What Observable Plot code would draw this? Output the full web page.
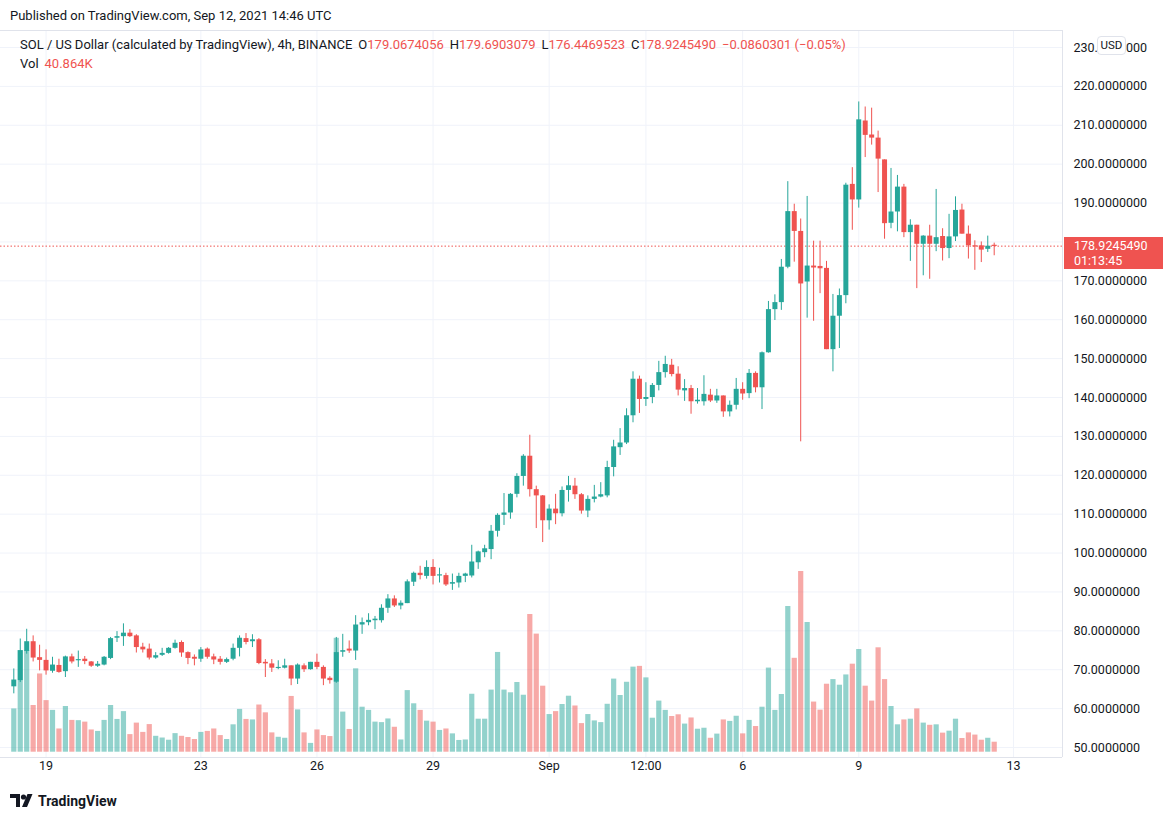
<!DOCTYPE html>
<html><head><meta charset="utf-8">
<script src="https://cdn.jsdelivr.net/npm/d3@7"></script>
<script src="https://cdn.jsdelivr.net/npm/@observablehq/plot@0.6"></script>
<style>
body{margin:0;background:#fff;font-family:Roboto,"Liberation Sans",Arial,sans-serif;color:#131722;}
#page{position:relative;width:1169px;height:820px;overflow:hidden;background:#fff;}
#header{position:absolute;left:10px;top:8px;font-size:13px;line-height:16px;white-space:nowrap;}
#chart{position:absolute;left:0;top:30px;width:1169px;height:760px;}
#chart svg{position:absolute;left:0;top:0;}
.legend{position:absolute;left:20px;font-size:13px;line-height:16px;white-space:nowrap;}
.legend .v{color:#ef5350;}
.legend .g{margin-left:6px;}
#pricebox{position:absolute;left:1064px;width:99px;height:32px;background:#ef5350;color:#fff;font-size:12.5px;line-height:15px;padding:1px 0 0 10px;box-sizing:border-box;}
#usd{position:absolute;left:1097px;top:6px;width:29px;height:19px;background:#fff;border:1px solid #e0e3eb;border-radius:4px;box-sizing:border-box;font-size:11.5px;line-height:17px;text-align:center;}
#footer{position:absolute;left:10px;top:793px;font-size:14px;font-weight:bold;line-height:16px;display:flex;align-items:center;gap:4px;}
</style></head>
<body><div id="page">
<div id="header">Published on TradingView.com, Sep 12, 2021 14:46 UTC</div>
<div id="chart"></div>
<div class="legend" style="top:37px">SOL / US Dollar (calculated by TradingView), 4h, BINANCE<span class="g">O<span class="v">179.0674056</span></span><span class="g">H<span class="v">179.6903079</span></span><span class="g">L<span class="v">176.4469523</span></span><span class="g">C<span class="v">178.9245490</span></span><span class="g v">−0.0860301 (−0.05%)</span></div>
<div class="legend" style="top:56px">Vol<span class="g v">40.864K</span></div>
<div id="footer"><svg width="24" height="14" viewBox="0 0 24 14"><path d="M0 0h10v13H6V4H0z" fill="#131722"/><circle cx="13.5" cy="3" r="2.6" fill="#131722"/><path d="M17.5 0h5L17 13h-5z" fill="#131722"/></svg><span>TradingView</span></div>
</div>
<script>
// ---- data (4h candles, SOL/USD, Binance) ----
const startTime = "2021-08-18T04:00:00Z";
const openVals = [65.6,67.2,74.7,77.2,73.1,72.4,69.6,71.1,69.5,73.3,
72.3,72.7,72.0,70.9,71.2,72.9,78.1,78.5,79.4,78.7,
75.8,75.3,73.0,73.7,74.2,75.5,77.0,74.4,73.2,72.7,
75.3,73.3,72.7,71.9,72.7,75.5,78.0,77.2,77.7,71.9,
71.5,70.3,70.4,71.0,67.6,71.0,70.0,71.9,70.6,67.8,
66.8,74.5,75.3,74.8,81.5,82.1,82.6,82.6,85.8,88.2,
86.4,87.0,92.5,94.8,94.0,96.3,94.1,94.2,92.0,92.3,
94.0,94.1,97.5,100.1,100.9,105.6,109.7,110.3,115.1,119.7,
124.9,116.3,114.7,108.3,111.3,110.1,116.1,117.2,115.0,110.8,
113.8,114.4,114.7,122.0,127.1,128.3,135.3,144.7,139.5,140.0,
143.1,146.4,148.3,146.0,141.7,142.3,138.9,138.9,140.6,139.1,
140.4,136.3,138.0,142.1,141.0,146.2,142.5,151.5,162.6,164.4,
173.5,187.8,182.7,169.7,173.8,173.7,173.2,152.3,160.9,166.2,
194.8,190.8,211.1,207.5,206.7,201.1,184.8,187.7,194.1,182.4,
184.3,179.4,181.5,179.4,181.4,178.3,181.3,188.2,182.0,179.0,
179.0,178.1,179.0674056];
const highVals = [70.2,77.9,80.4,78.7,76.3,75.1,73.2,72.7,73.5,74.0,
74.8,73.4,72.1,72.1,73.4,78.3,79.8,81.8,80.3,79.0,
76.8,76.6,74.4,75.5,75.7,77.6,77.4,74.6,73.8,75.7,
75.6,74.0,73.4,73.0,76.6,78.7,79.3,79.0,78.0,72.6,
72.6,72.3,72.7,71.0,71.5,71.5,71.9,74.0,71.0,68.2,
78.3,79.1,77.4,83.9,83.3,84.4,83.7,86.7,89.3,89.0,
87.7,93.1,95.1,96.6,98.0,98.3,96.1,94.8,94.6,94.8,
94.8,102.0,100.5,102.0,107.1,110.1,115.3,115.3,120.4,125.3,
130.3,117.2,114.8,112.4,115.1,117.0,119.7,119.2,115.3,114.7,
117.4,118.1,123.6,129.0,132.0,137.1,146.6,145.5,143.8,143.6,
149.3,150.6,149.8,147.9,144.6,143.1,142.3,145.6,142.1,142.1,
140.4,139.1,144.9,143.8,147.2,146.6,151.7,164.7,166.4,175.5,
195.5,189.7,185.9,191.7,180.2,180.2,175.0,166.5,167.9,195.1,
199.1,216.0,214.7,214.4,208.5,201.1,198.9,197.1,194.8,185.7,
184.3,181.6,184.3,193.5,183.4,187.1,191.6,189.7,184.1,180.3,
180.0,181.5,179.6903079];
const lowVals = [63.8,66.7,74.0,72.0,69.7,68.6,69.1,69.1,68.0,71.5,
70.6,71.3,70.6,70.6,71.0,72.6,77.0,76.0,78.3,74.3,
74.3,72.5,72.7,73.4,74.0,75.3,73.2,71.3,71.0,71.9,
72.7,71.3,71.2,71.6,72.3,73.3,76.4,75.7,71.3,68.0,
69.3,70.0,70.2,65.9,66.2,69.3,69.9,70.0,65.9,66.3,
66.5,73.2,74.2,72.4,79.1,81.3,80.3,82.0,84.5,86.0,
85.4,87.0,91.4,93.1,93.3,91.8,92.3,91.4,90.4,91.0,
92.4,93.6,95.8,98.8,98.3,104.1,107.1,108.7,114.2,117.2,
114.4,106.3,102.7,105.9,107.3,109.3,113.1,113.8,110.0,109.1,
112.9,114.2,114.2,119.6,125.1,127.9,133.5,135.9,137.7,138.4,
141.7,145.0,145.3,140.4,139.0,135.7,138.3,137.8,138.7,138.5,
134.9,135.0,136.8,139.3,139.7,141.2,136.9,151.4,159.8,162.4,
173.1,174.8,128.6,160.4,159.6,166.7,152.3,146.6,152.6,164.1,
183.0,188.7,201.7,204.9,192.7,180.7,183.4,182.6,181.1,175.0,
168.0,171.3,170.4,177.5,175.1,175.7,180.1,182.0,175.6,172.7,
174.7,177.3,176.4469523];
const closeVals = [67.35,74.9,77.2,73.0,72.4,69.7,71.2,69.3,73.3,72.0,
72.6,72.1,70.9,71.4,73.2,78.0,78.5,79.4,78.5,75.7,
75.1,73.0,73.6,74.2,75.5,76.8,74.3,72.9,72.7,75.1,
73.2,72.5,71.9,72.6,75.5,78.1,77.0,77.7,71.6,71.5,
70.4,70.6,71.0,67.6,71.2,70.0,71.9,70.6,67.6,67.2,
74.4,74.9,74.8,81.5,82.1,82.7,83.0,85.8,88.2,86.4,
87.1,92.6,94.8,94.2,96.3,94.0,94.4,91.8,92.4,94.0,
94.6,97.7,100.3,101.1,105.6,109.7,110.3,115.1,119.7,124.9,
116.3,114.7,108.3,111.3,110.1,116.1,117.3,115.0,110.8,113.8,
114.4,115.0,122.0,127.3,128.3,135.3,144.7,139.5,140.0,143.1,
146.4,148.5,145.9,141.9,142.3,138.9,139.3,140.8,139.1,140.4,
136.3,138.0,142.1,140.9,146.2,142.5,151.5,162.6,164.4,173.5,
187.8,182.7,169.2,173.8,173.3,173.1,152.3,160.9,166.2,194.6,
190.8,211.4,207.4,206.7,201.3,184.7,187.7,194.1,182.4,184.3,
179.4,181.5,179.4,181.1,178.3,181.3,188.1,182.0,179.0,178.7,
177.9,178.9,178.9245490];
const volumeK = [177,416,416,191,320,211,171,95,187,130,
129,123,91,85,130,191,134,166,72,119,
81,113,65,58,49,76,65,60,52,81,
85,95,68,52,112,175,134,132,193,161,
79,61,57,228,173,79,36,91,68,64,
466,164,93,341,184,171,123,121,136,102,
50,252,198,171,127,123,89,95,75,48,
50,237,135,135,254,408,254,243,285,233,
563,483,270,154,166,195,229,189,117,154,
128,121,196,299,232,286,348,351,304,139,
209,171,146,153,115,140,94,98,57,74,
132,126,147,75,130,105,184,344,171,236,
596,384,739,530,205,172,278,297,274,316,
360,420,270,209,427,297,187,112,132,135,
177,119,110,112,78,86,135,56,79,70,
49,57,40.864];
const priceTicks = [50,60,70,80,90,100,110,120,130,140,150,160,170,180,190,200,210,220,230];
const priceTickLabelled = [50,60,70,80,90,100,110,120,130,140,150,160,170,190,200,210,220,230];
const tickDates = ["2021-08-19T00:00Z","2021-08-23T00:00Z","2021-08-26T00:00Z","2021-08-29T00:00Z","2021-09-01T00:00Z","2021-09-03T12:00Z","2021-09-06T00:00Z","2021-09-09T00:00Z","2021-09-13T00:00Z"];
const tickLabels = ["19","23","26","29","Sep","12:00","6","9","13"];
const lastClose = 178.9245490;

// ---- layout ----
const GREEN = "#26a69a", RED = "#ef5350";
const H4 = 4*3600*1000;
const t0 = Date.parse(startTime);
const W = 1169, H = 760, MR = 107, MB = 33;
const pxPerBar = 6.45, firstX = 13.3, plotW = W - MR;
const xDomain = [new Date(t0 + (-firstX/pxPerBar)*H4), new Date(t0 + ((plotW-firstX)/pxPerBar)*H4)];
const pxPerUnit = 700/180;
const yDomain = [50 - 10/pxPerUnit, 230 + 17/pxPerUnit];
const volBase = 721.7, kPerPx = 4.09;

const rows = openVals.map((o, i) => {
  const c = closeVals[i];
  let lo = Math.min(o, c), hi = Math.max(o, c);
  if (hi - lo < 0.3) { const m = (hi + lo)/2; lo = m - 0.15; hi = m + 0.15; }
  return {t: new Date(t0 + i*H4), o, h: highVals[i], l: lowVals[i], c, v: volumeK[i], bl: lo, bh: hi, up: c >= o};
});
const colorOf = d => d.up ? GREEN : RED;
const ticks = tickDates.map(s => new Date(s));
const labelMap = new Map(ticks.map((d, i) => [+d, tickLabels[i]]));
const FONT = "Roboto, 'Liberation Sans', Arial, sans-serif";

const common = {width: W, height: H, marginLeft: 0, marginRight: MR, marginTop: 0, marginBottom: MB,
  x: {type: "utc", domain: xDomain}, y: {domain: yDomain},
  style: {background: "transparent", fontFamily: FONT, fontSize: "12.5px", color: "#131722", overflow: "visible"}};

const base = Plot.plot({...common,
  marks: [
    Plot.ruleY(priceTicks, {stroke: "#f0f3fa", strokeWidth: 1}),
    Plot.ruleX(ticks, {stroke: "#f0f3fa", strokeWidth: 1}),
    Plot.ruleY([yDomain[1]], {stroke: "#e0e3eb"}),
    Plot.ruleX([xDomain[1]], {stroke: "#e0e3eb"}),
    Plot.ruleY([yDomain[0]], {stroke: "#e0e3eb"}),
    Plot.axisY(priceTickLabelled, {anchor: "right", tickSize: 0, tickPadding: 11, tickFormat: d => d.toFixed(7), label: null, fill: "#131722"}),
    Plot.axisX(ticks, {anchor: "bottom", tickSize: 0, tickPadding: 4, tickFormat: d => labelMap.get(+d), label: null, fill: "#131722", fontSize: 12.5})
  ]});

const vol = Plot.plot({width: W, height: H, marginLeft: 0, marginRight: MR, marginTop: 0, marginBottom: H - volBase,
  x: {type: "utc", domain: xDomain, axis: null}, y: {domain: [0, volBase*kPerPx], axis: null},
  color: {type: "identity"},
  style: {background: "transparent"},
  marks: [
    Plot.ruleX(rows, {x: "t", y1: 0, y2: "v", stroke: colorOf, strokeOpacity: 0.5, strokeWidth: 5.2})
  ]});

const candles = Plot.plot({...common, x: {...common.x, axis: null}, y: {...common.y, axis: null},
  color: {type: "identity"},
  marks: [
    Plot.ruleY([lastClose], {stroke: RED, strokeDasharray: "1.5,2", strokeWidth: 1}),
    Plot.ruleX(rows, {x: "t", y1: "l", y2: "h", stroke: colorOf, strokeWidth: 1}),
    Plot.ruleX(rows, {x: "t", y1: "bl", y2: "bh", stroke: colorOf, strokeWidth: 5})
  ]});

const chart = document.getElementById("chart");
chart.append(base, vol, candles);

// price label tied to y scale
const yPx = candles.scale("y").apply(lastClose);
const box = document.createElement("div");
box.id = "pricebox";
box.style.top = (yPx - 9) + "px";
box.innerHTML = "178.9245490<br>01:13:45";
chart.append(box);
const usd = document.createElement("div");
usd.id = "usd"; usd.textContent = "USD";
chart.append(usd);
</script>
</body></html>
